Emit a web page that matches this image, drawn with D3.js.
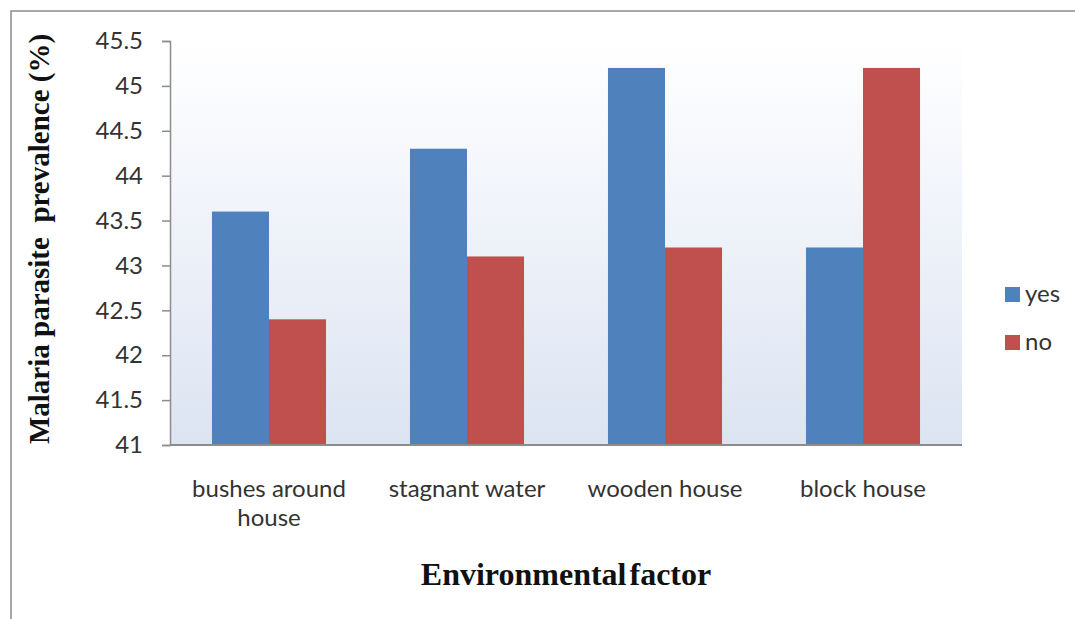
<!DOCTYPE html>
<html><head><meta charset="utf-8">
<script src="https://cdn.jsdelivr.net/npm/d3@7"></script>
<style>body{margin:0;background:#fff;} svg{display:block;}</style>
</head><body>
<svg id="c" width="1075" height="619"></svg>
<script>
const categories = [["bushes around","house"],["stagnant water"],["wooden house"],["block house"]];
const seriesNames = ["yes","no"];
const yesValues = [43.6, 44.3, 45.2, 43.2];
const noValues = [42.4, 43.1, 43.2, 45.2];
const yTicks = [41, 41.5, 42, 42.5, 43, 43.5, 44, 44.5, 45, 45.5];
const colors = ["#4f81bd", "#c0504d"];

const svg = d3.select("#c");
const m = {l:170, r:962, t:41, b:445};
const defs = svg.append("defs");
const g = defs.append("linearGradient").attr("id","bg").attr("x1",0).attr("y1",0).attr("x2",0).attr("y2",1);
g.append("stop").attr("offset","0%").attr("stop-color","#ffffff");
g.append("stop").attr("offset","100%").attr("stop-color","#dce4f2");

// outer border
svg.append("rect").attr("x",11).attr("y",11).attr("width",1100).attr("height",700)
  .attr("fill","#fff").attr("stroke","#8c8c8c").attr("stroke-width",1.5);

const x0 = d3.scaleBand().domain(d3.range(categories.length)).range([m.l, m.r]).paddingInner(0.424).paddingOuter(0.212);
const x1 = d3.scaleBand().domain(seriesNames).range([0, x0.bandwidth()]);
const y = d3.scaleLinear().domain([41, 45.5]).range([m.b, m.t]);

svg.append("rect").attr("x",m.l).attr("y",m.t).attr("width",m.r-m.l).attr("height",m.b-m.t).attr("fill","url(#bg)");

const data = categories.map((c,i)=>({i, vals:[yesValues[i], noValues[i]]}));
const grp = svg.append("g").selectAll("g").data(data).join("g").attr("transform",d=>`translate(${x0(d.i)},0)`);
grp.selectAll("rect").data(d=>d.vals.map((v,k)=>({k,v}))).join("rect")
  .attr("x",d=>x1(seriesNames[d.k])).attr("width",x1.bandwidth())
  .attr("y",d=>y(d.v)).attr("height",d=>y(41)-y(d.v)).attr("fill",d=>colors[d.k]);

const labelFont = "Lato, 'Open Sans', sans-serif";
// y axis
const ya = svg.append("g").attr("transform",`translate(${m.l},0)`)
  .call(d3.axisLeft(y).tickValues(yTicks).tickSize(8).tickPadding(19).tickFormat(d=>String(d)));
ya.select(".domain").attr("stroke","#8c8c8c").attr("stroke-width",1.5);
ya.selectAll(".tick line").attr("stroke","#8c8c8c").attr("stroke-width",1.5);
ya.selectAll("text").attr("font-family",labelFont).attr("font-size",24).attr("fill","#333");

// x axis line
svg.append("line").attr("x1",m.l).attr("x2",m.r).attr("y1",m.b).attr("y2",m.b).attr("stroke","#8c8c8c").attr("stroke-width",2);

// category labels
const cl = svg.append("g").selectAll("text").data(categories).join("text")
  .attr("x",(d,i)=>x0(i)+x0.bandwidth()/2).attr("y",497)
  .attr("text-anchor","middle").attr("font-family",labelFont).attr("font-size",24).attr("fill","#333");
cl.selectAll("tspan").data(d=>d).join("tspan").attr("x",function(){return this.parentNode.getAttribute("x");})
  .attr("dy",(d,j)=>j===0?0:29).text(d=>d);

// titles
svg.append("text").attr("transform","translate(49,239) rotate(-90)").attr("text-anchor","middle")
  .attr("font-family","'Liberation Serif', 'Times New Roman', serif").attr("font-weight","bold").attr("font-size",29)
  .attr("fill","#111").style("white-space","pre").text("Malaria parasite  prevalence (%)");
svg.append("text").attr("x",566).attr("y",585).attr("text-anchor","middle")
  .attr("font-family","'Liberation Serif', 'Times New Roman', serif").attr("font-weight","bold").attr("font-size",32)
  .attr("fill","#111").attr("word-spacing",-5).text("Environmental factor");

// legend
const lg = svg.append("g").selectAll("g").data(seriesNames).join("g").attr("transform",(d,i)=>`translate(1005,${287+i*48})`);
lg.append("rect").attr("width",15).attr("height",15).attr("fill",(d,i)=>colors[i]);
lg.append("text").attr("x",20).attr("y",15).attr("font-family",labelFont).attr("font-size",24).attr("fill","#333").text(d=>d);
</script>
</body></html>
